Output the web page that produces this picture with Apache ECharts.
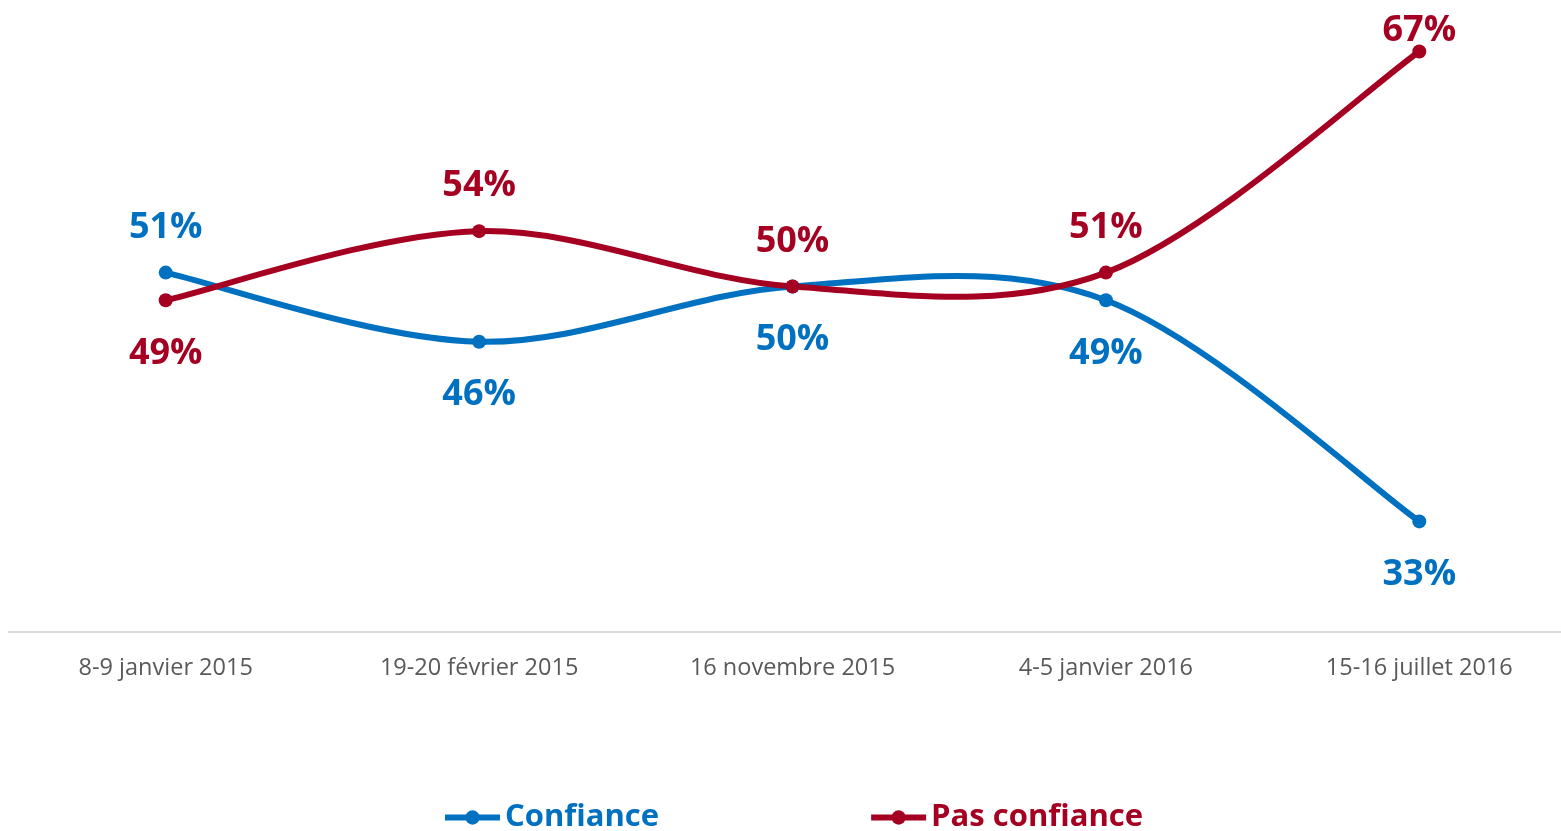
<!DOCTYPE html>
<html>
<head>
<meta charset="utf-8">
<script src="https://cdn.jsdelivr.net/npm/echarts@6/dist/echarts.min.js"></script>
<style>
    html, body { margin: 0; padding: 0; background: #fff; }
    #chart { width: 1561px; height: 831px; }
</style>
</head>
<body>
<div id="chart"></div>
<script>
    var dates = ['8-9 janvier 2015', '19-20 février 2015', '16 novembre 2015', '4-5 janvier 2016', '15-16 juillet 2016'];
    var confiance = [51, 46, 50, 49, 33];
    var pasConfiance = [49, 54, 50, 51, 67];
    // label placement per point, as in the original
    var confiancePos = ['top', 'bottom', 'bottom', 'bottom', 'bottom'];
    var pasConfiancePos = ['bottom', 'top', 'top', 'top', 'top'];

    var blue = '#0070C0';
    var red = '#A50021';

    function withLabels(values, positions) {
        return values.map(function (v, i) {
            var lbl = { position: positions[i], distance: positions[i] === 'top' ? 20 : 28 };
            // last top label sits tight against the point (chart edge)
            if (v > 60) lbl.distance = -4;
            return { value: v, label: lbl };
        });
    }

    // Excel-like smooth curve (catmull-rom), points taken from the axes
    function splineItem(values, color) {
        return function (params, api) {
            if (params.dataIndex !== 0) return;
            var pts = values.map(function (v, i) { return api.coord([i, v]); });
            var segs = [];
            for (var i = 0; i < pts.length - 1; i++) {
                var p0 = pts[i - 1] || pts[i];
                var p1 = pts[i];
                var p2 = pts[i + 1];
                var p3 = pts[i + 2] || pts[i + 1];
                segs.push({
                    type: 'bezierCurve',
                    shape: {
                        x1: p1[0], y1: p1[1],
                        x2: p2[0], y2: p2[1],
                        cpx1: p1[0] + (p2[0] - p0[0]) / 6,
                        cpy1: p1[1] + (p2[1] - p0[1]) / 6,
                        cpx2: p2[0] - (p3[0] - p1[0]) / 6,
                        cpy2: p2[1] - (p3[1] - p1[1]) / 6
                    },
                    style: { fill: null, stroke: color, lineWidth: 6, lineCap: 'round' }
                });
            }
            return { type: 'group', children: segs };
        };
    }

    function labelStyle(color) {
        return {
            show: true,
            formatter: '{c}%',
            fontSize: 36,
            fontWeight: 'bold',
            color: color
        };
    }

    var chart = echarts.init(document.getElementById('chart'));
    chart.setOption({
        animation: false,
        textStyle: { fontFamily: '"Open Sans", sans-serif' },
        grid: {
            left: 9,
            right: -15,
            top: 10,
            bottom: 199,
            containLabel: false,
            outerBoundsMode: 'none'
        },
        legend: {
            left: 437,
            top: 797,
            itemWidth: 55,
            itemHeight: 18,
            itemGap: 209,
            textStyle: {
                fontSize: 31,
                fontWeight: 'bold',
                color: 'inherit'
            },
            data: [
                { name: 'Confiance', lineStyle: { width: 6, color: blue, opacity: 1 }, itemStyle: { color: blue } },
                { name: 'Pas confiance', lineStyle: { width: 6, color: red, opacity: 1 }, itemStyle: { color: red } }
            ]
        },
        xAxis: {
            type: 'category',
            boundaryGap: true,
            data: dates,
            axisLine: { lineStyle: { color: '#d9d9d9', width: 2 } },
            axisTick: { show: false },
            axisLabel: { color: '#595959', fontSize: 23.5, margin: 24 }
        },
        yAxis: {
            type: 'value',
            min: 25,
            max: 70,
            show: false,
            splitLine: { show: false }
        },
        series: [
            {
                name: 'Confiance',
                type: 'line',
                z: 5,
                symbol: 'circle',
                symbolSize: 14,
                color: blue,
                lineStyle: { width: 6, color: blue, opacity: 0 },
                label: labelStyle(blue),
                data: withLabels(confiance, confiancePos)
            },
            {
                name: 'Pas confiance',
                type: 'line',
                z: 5,
                symbol: 'circle',
                symbolSize: 14,
                color: red,
                lineStyle: { width: 6, color: red, opacity: 0 },
                label: labelStyle(red),
                data: withLabels(pasConfiance, pasConfiancePos)
            },
            {
                name: 'confianceCurve',
                type: 'custom',
                z: 2,
                renderItem: splineItem(confiance, blue),
                data: [[0, confiance[0]]]
            },
            {
                name: 'pasConfianceCurve',
                type: 'custom',
                z: 3,
                renderItem: splineItem(pasConfiance, red),
                data: [[0, pasConfiance[0]]]
            }
        ]
    });
</script>
</body>
</html>
